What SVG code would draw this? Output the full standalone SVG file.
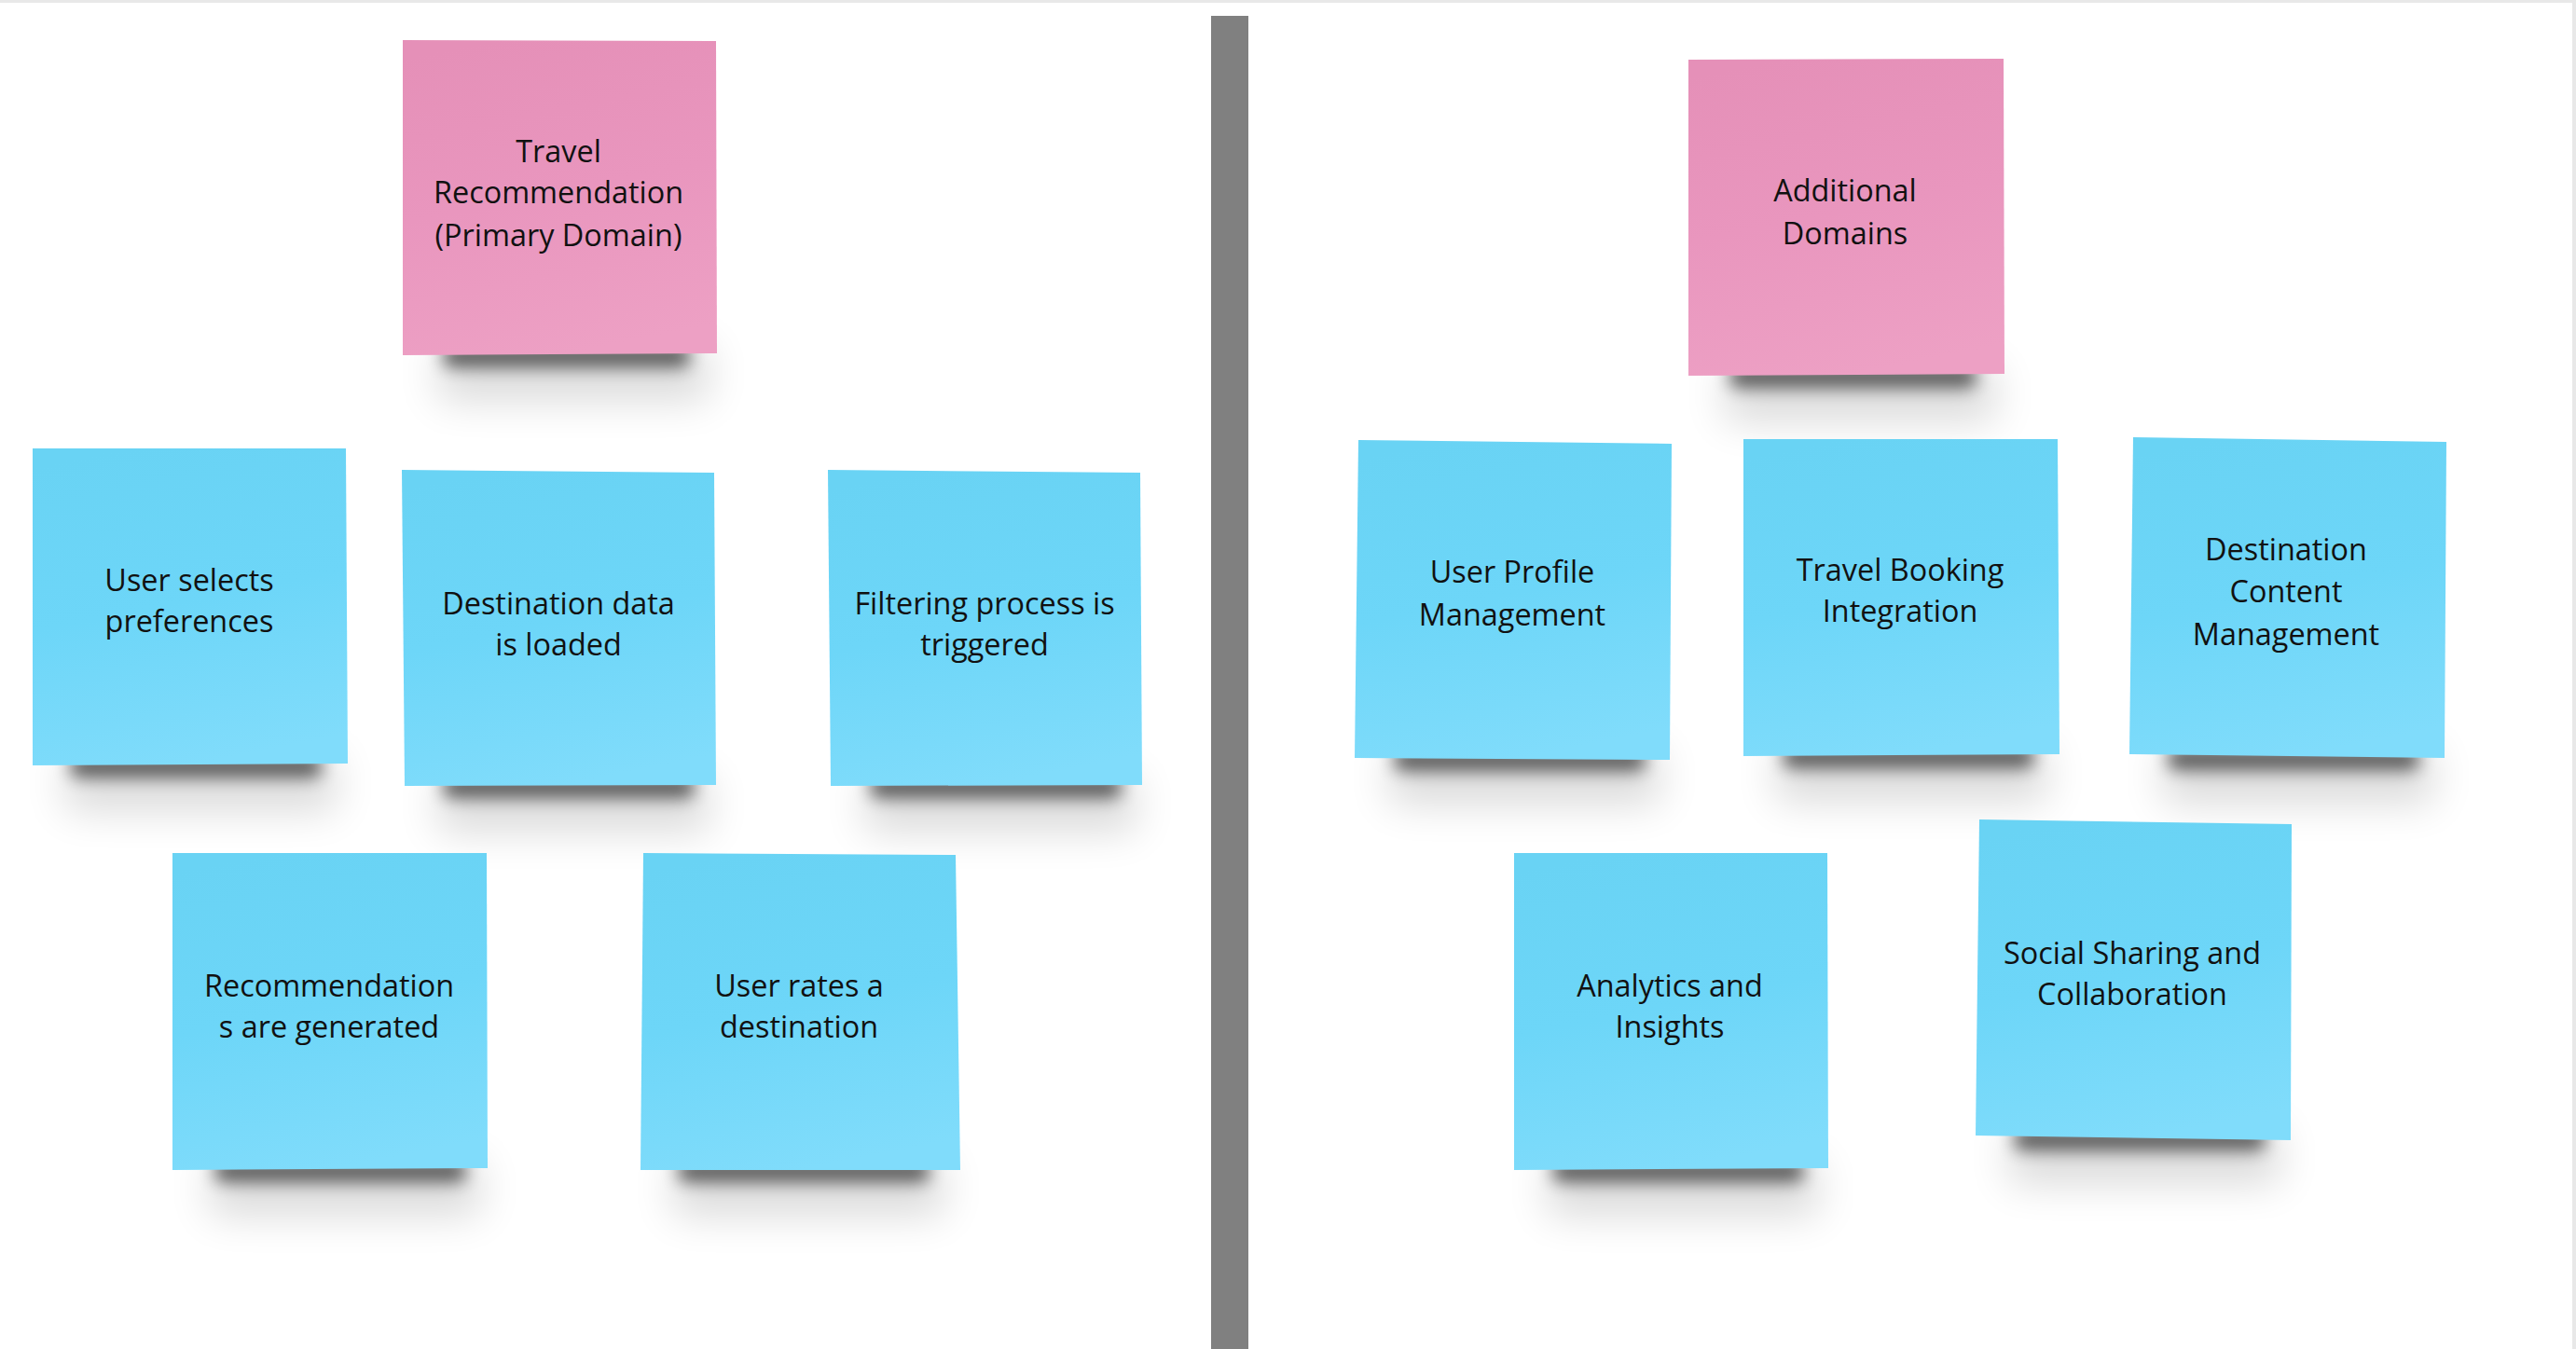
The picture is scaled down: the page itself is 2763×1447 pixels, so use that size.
<svg xmlns="http://www.w3.org/2000/svg" width="2763" height="1447" viewBox="0 0 2763 1447">
<defs>
<linearGradient id="gBlue" x1="0.3" y1="0" x2="0.5" y2="1">
<stop offset="0" stop-color="#69d3f4"/>
<stop offset="0.5" stop-color="#6dd6f8"/>
<stop offset="1" stop-color="#80dcfb"/>
</linearGradient>
<linearGradient id="gPink" x1="0.3" y1="0" x2="0.5" y2="1">
<stop offset="0" stop-color="#e590b8"/>
<stop offset="0.5" stop-color="#e996be"/>
<stop offset="1" stop-color="#eda0c4"/>
</linearGradient>
<filter id="shadow" x="-30%" y="-200%" width="160%" height="500%">
<feGaussianBlur stdDeviation="9"/>
</filter>
<filter id="shadowSoft" x="-30%" y="-200%" width="160%" height="500%">
<feGaussianBlur stdDeviation="22"/>
</filter>
</defs>
<style>
.blue{fill:url(#gBlue);}
.pink{fill:url(#gPink);}
.sh{fill:#000;opacity:0.6;filter:url(#shadow);}
.shs{fill:#000;opacity:0.14;filter:url(#shadowSoft);}
.t{font-family:"Open Sans","Noto Sans","Liberation Sans",sans-serif;font-size:32.4px;fill:#111111;text-anchor:middle;}
</style>
<rect x="0" y="0" width="2763" height="1447" fill="#ffffff"/>
<rect x="0" y="0" width="2763" height="3" fill="#e8e8e8"/>
<rect x="2759" y="0" width="4" height="1447" fill="#e8e8e8"/>
<rect id="divider" x="1299" y="17" width="40" height="1430" fill="#808080"/>

<g id="primary-domain">
<rect class="shs" x="470" y="370" width="290" height="60"/>
<rect class="sh" x="475" y="370" width="265" height="24" rx="10"/>
<polygon class="pink" points="432,43 768,44 769,379 432,381"/>
<text class="t" x="599" y="174">Travel</text>
<text class="t" x="599" y="218">Recommendation</text>
<text class="t" x="599" y="264">(Primary Domain)</text>
</g>

<g id="additional-domains">
<rect class="shs" x="1850" y="392" width="290" height="60"/>
<rect class="sh" x="1855" y="392" width="265" height="24" rx="10"/>
<polygon class="pink" points="1811,64 2149,63 2150,401 1811,403"/>
<text class="t" x="1979" y="216">Additional</text>
<text class="t" x="1979" y="262">Domains</text>
</g>

<g id="user-selects-preferences">
<rect class="shs" x="70" y="810" width="290" height="60"/>
<rect class="sh" x="75" y="810" width="270" height="24" rx="10"/>
<polygon class="blue" points="35,481 371,481 373,819 35,821"/>
<text class="t" x="203" y="634">User selects</text>
<text class="t" x="203" y="678">preferences</text>
</g>

<g id="destination-data-loaded">
<rect class="shs" x="470" y="832" width="290" height="60"/>
<rect class="sh" x="475" y="832" width="270" height="24" rx="10"/>
<polygon class="blue" points="431,504 766,507 768,842 434,843"/>
<text class="t" x="599" y="659">Destination data</text>
<text class="t" x="599" y="703">is loaded</text>
</g>

<g id="filtering-triggered">
<rect class="shs" x="928" y="832" width="290" height="60"/>
<rect class="sh" x="933" y="832" width="270" height="24" rx="10"/>
<polygon class="blue" points="888,504 1223,507 1225,842 891,843"/>
<text class="t" x="1056" y="659">Filtering process is</text>
<text class="t" x="1056" y="703">triggered</text>
</g>

<g id="recommendations-generated">
<rect class="shs" x="225" y="1244" width="290" height="60"/>
<rect class="sh" x="230" y="1244" width="270" height="24" rx="10"/>
<polygon class="blue" points="185,915 522,915 523,1253 185,1255"/>
<text class="t" x="353" y="1069">Recommendation</text>
<text class="t" x="353" y="1113">s are generated</text>
</g>

<g id="user-rates-destination">
<rect class="shs" x="722" y="1244" width="290" height="60"/>
<rect class="sh" x="727" y="1244" width="270" height="24" rx="10"/>
<polygon class="blue" points="690,915 1025,917 1030,1255 687,1255"/>
<text class="t" x="857" y="1069">User rates a</text>
<text class="t" x="857" y="1113">destination</text>
</g>

<g id="user-profile-management">
<rect class="shs" x="1490" y="803" width="290" height="60"/>
<rect class="sh" x="1495" y="803" width="270" height="24" rx="10"/>
<polygon class="blue" points="1457,472 1793,476 1791,815 1453,813"/>
<text class="t" x="1622" y="625">User Profile</text>
<text class="t" x="1622" y="671">Management</text>
</g>

<g id="travel-booking-integration">
<rect class="shs" x="1905" y="800" width="290" height="60"/>
<rect class="sh" x="1912" y="800" width="270" height="24" rx="10"/>
<polygon class="blue" points="1870,471 2207,471 2209,809 1870,811"/>
<text class="t" x="2038" y="623">Travel Booking</text>
<text class="t" x="2038" y="667">Integration</text>
</g>

<g id="destination-content-management">
<rect class="shs" x="2320" y="802" width="290" height="60"/>
<rect class="sh" x="2325" y="802" width="270" height="24" rx="10"/>
<polygon class="blue" points="2288,469 2624,474 2622,813 2284,809"/>
<text class="t" x="2452" y="601">Destination</text>
<text class="t" x="2452" y="646">Content</text>
<text class="t" x="2452" y="692">Management</text>
</g>

<g id="analytics-insights">
<rect class="shs" x="1660" y="1244" width="290" height="60"/>
<rect class="sh" x="1665" y="1244" width="270" height="24" rx="10"/>
<polygon class="blue" points="1624,915 1960,915 1961,1253 1624,1255"/>
<text class="t" x="1791" y="1069">Analytics and</text>
<text class="t" x="1791" y="1113">Insights</text>
</g>

<g id="social-sharing-collaboration">
<rect class="shs" x="2155" y="1210" width="290" height="60"/>
<rect class="sh" x="2160" y="1210" width="270" height="24" rx="10"/>
<polygon class="blue" points="2123,879 2458,884 2457,1223 2119,1218"/>
<text class="t" x="2287" y="1034">Social Sharing and</text>
<text class="t" x="2287" y="1078">Collaboration</text>
</g>
</svg>
